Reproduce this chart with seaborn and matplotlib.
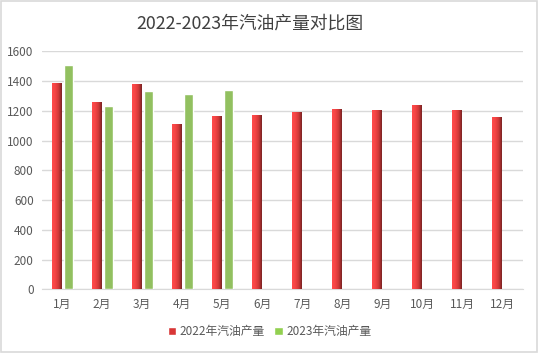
import numpy as np
import pandas as pd
import matplotlib
matplotlib.use("Agg")
import matplotlib.pyplot as plt
import seaborn as sns
from matplotlib.colors import LinearSegmentedColormap
from matplotlib.patches import Rectangle, Patch

months = ["1月", "2月", "3月", "4月", "5月", "6月", "7月", "8月", "9月", "10月", "11月", "12月"]
y2022 = [1380, 1252, 1373, 1104, 1158, 1165, 1185, 1205, 1198, 1232, 1198, 1151]
y2023 = [1508, 1232, 1333, 1313, 1340, np.nan, np.nan, np.nan, np.nan, np.nan, np.nan, np.nan]
series = ["2022年汽油产量", "2023年汽油产量"]

df = pd.DataFrame({
    "month": months * 2,
    "value": y2022 + y2023,
    "series": [series[0]] * 12 + [series[1]] * 12,
})

sns.set_style("white")
plt.rcParams["font.family"] = ["Noto Sans CJK SC", "DejaVu Sans"]

fig = plt.figure(figsize=(5.39, 3.53), dpi=100)
ax = fig.add_axes([0.078, 0.18, 0.892, 0.675])

sns.barplot(data=df, x="month", y="value", hue="series", order=months,
            hue_order=series, palette=["#E83A3A", "#92D050"],
            width=0.6, gap=0.25, ax=ax, legend=False, zorder=3)

# gradient for the 2022 bars
red_grad = LinearSegmentedColormap.from_list(
    "redgrad", ["#FF4C4C", "#F44444", "#D03838", "#7A2424"])
grad = np.linspace(0, 1, 64).reshape(1, -1)
for p in ax.patches[:12]:
    x0, w, h = p.get_x(), p.get_width(), p.get_height()
    if not np.isfinite(h) or h <= 0:
        continue
    ax.imshow(grad, cmap=red_grad, aspect="auto", extent=[x0, x0 + w, 0, h],
              zorder=3.5, interpolation="bilinear")
    p.set_visible(False)

ax.set_xlim(-0.5, 11.5)
ax.set_ylim(0, 1600)
ax.set_yticks(range(0, 1601, 200))
ax.yaxis.grid(True, color="#D9D9D9", linewidth=1)
ax.set_axisbelow(True)
for s in ["top", "right", "left"]:
    ax.spines[s].set_visible(False)
ax.spines["bottom"].set_color("#D9D9D9")
ax.tick_params(axis="both", length=0, labelsize=8.5, colors="#595959", pad=6)
ax.set_xlabel("")
ax.set_ylabel("")

fig.text(0.464, 0.932, "2022-2023年汽油产量对比图", ha="center", va="center",
         fontsize=12.8, color="#404040")

handles = [Patch(facecolor="#D83636"), Patch(facecolor="#92D050")]
fig.legend(handles, series, loc="center", bbox_to_anchor=(0.5, 0.06), ncol=2,
           frameon=False, fontsize=8.5, handlelength=0.7, handleheight=0.7,
           handletextpad=0.3, columnspacing=0.8, labelcolor="#595959")

fig.patches.append(Rectangle((0.002, 0.003), 0.995, 0.994, transform=fig.transFigure,
                             fill=False, edgecolor="#D9D9D9", linewidth=1.2))

fig.savefig("out.png", dpi=100)
